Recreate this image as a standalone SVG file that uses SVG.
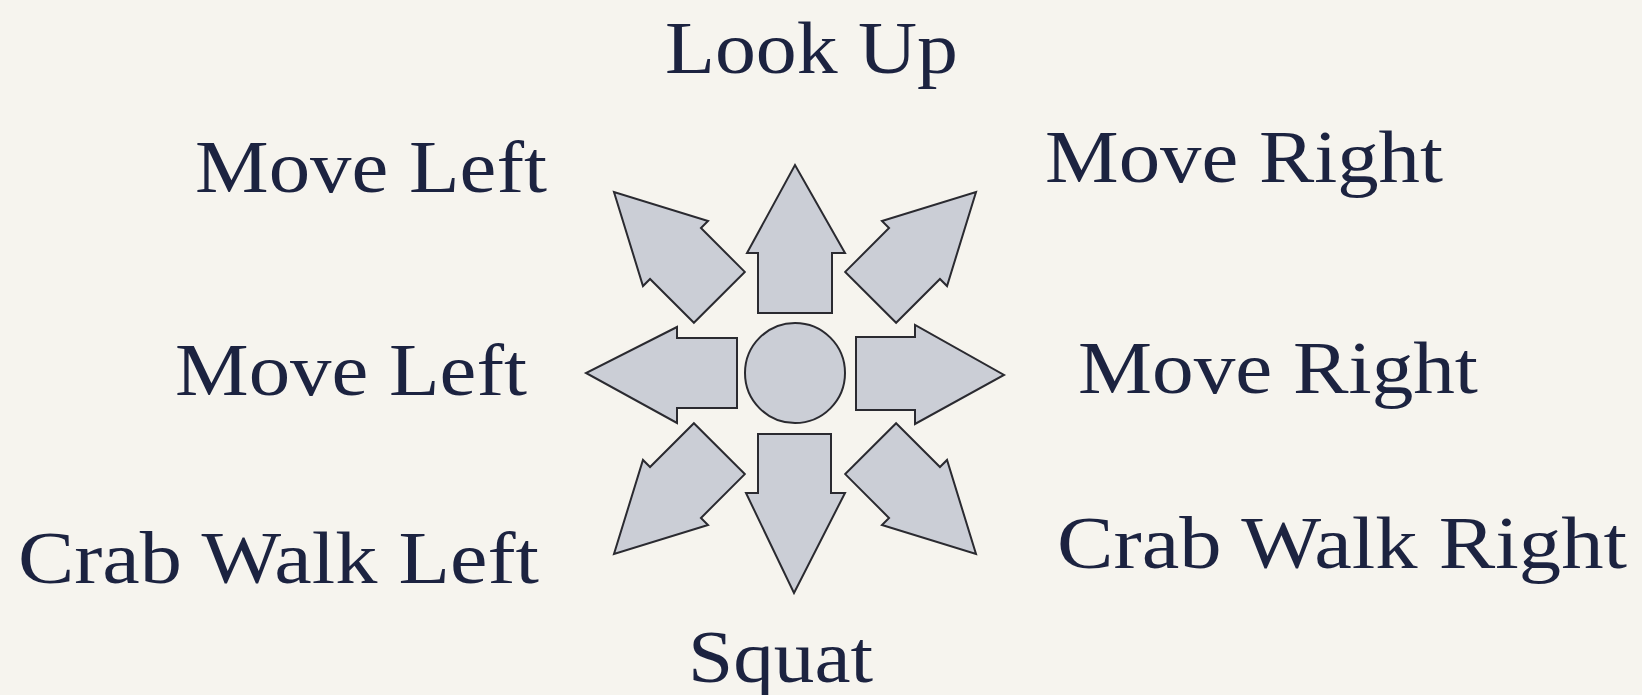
<svg xmlns="http://www.w3.org/2000/svg" width="1642" height="695" viewBox="0 0 1642 695">
<defs>
<style>
.bg{fill:#f6f4ee}
.arrow{fill:#cbced6;stroke:#2a2a30;stroke-width:2;stroke-linejoin:miter}
.lbl{font-family:"Liberation Serif","Times New Roman",serif;font-size:74px;fill:#1c2340}
</style>
<path id="diag" d="M-36,-107 L-36,-169 L-46,-169 L0,-256 L46,-169 L36,-169 L36,-107 Z"/>
</defs>
<rect class="bg" x="0" y="0" width="1642" height="695"/>
<g id="connectors">
<g id="arrow-up"><path class="arrow" d="M758,313 L758,253 L747,253 L795,165 L845,253 L832,253 L832,313 Z"/></g>
<g id="arrow-left"><path class="arrow" d="M737,338 L677,338 L677,327 L586,373 L677,423 L677,408 L737,408 Z"/></g>
<g id="arrow-right"><path class="arrow" d="M856,337 L915,337 L915,325 L1004,375 L915,424 L915,410 L856,410 Z"/></g>
<g id="arrow-down"><path class="arrow" d="M758,434 L831,434 L831,493 L845,493 L794,593 L746,493 L758,493 Z"/></g>
<g id="arrow-upleft"><use href="#diag" class="arrow" transform="translate(795,373) rotate(-45)"/></g>
<g id="arrow-upright"><use href="#diag" class="arrow" transform="translate(795,373) rotate(45)"/></g>
<g id="arrow-downright"><use href="#diag" class="arrow" transform="translate(795,373) rotate(135)"/></g>
<g id="arrow-downleft"><use href="#diag" class="arrow" transform="translate(795,373) rotate(-135)"/></g>
</g>
<g id="center"><circle class="arrow" cx="795" cy="373" r="50"/></g>
<g id="label-lookup"><text class="lbl" x="665" y="73" textLength="293" lengthAdjust="spacingAndGlyphs">Look Up</text></g>
<g id="label-moveleft-top"><text class="lbl" x="195" y="192" textLength="352" lengthAdjust="spacingAndGlyphs">Move Left</text></g>
<g id="label-moveright-top"><text class="lbl" x="1045" y="182" textLength="398" lengthAdjust="spacingAndGlyphs">Move Right</text></g>
<g id="label-moveleft-mid"><text class="lbl" x="175" y="395" textLength="352" lengthAdjust="spacingAndGlyphs">Move Left</text></g>
<g id="label-moveright-mid"><text class="lbl" x="1078" y="393" textLength="400" lengthAdjust="spacingAndGlyphs">Move Right</text></g>
<g id="label-crableft"><text class="lbl" x="18" y="583" textLength="521" lengthAdjust="spacingAndGlyphs">Crab Walk Left</text></g>
<g id="label-crabright"><text class="lbl" x="1057" y="568" textLength="570" lengthAdjust="spacingAndGlyphs">Crab Walk Right</text></g>
<g id="label-squat"><text class="lbl" x="688" y="682" textLength="185" lengthAdjust="spacingAndGlyphs">Squat</text></g>
</svg>
